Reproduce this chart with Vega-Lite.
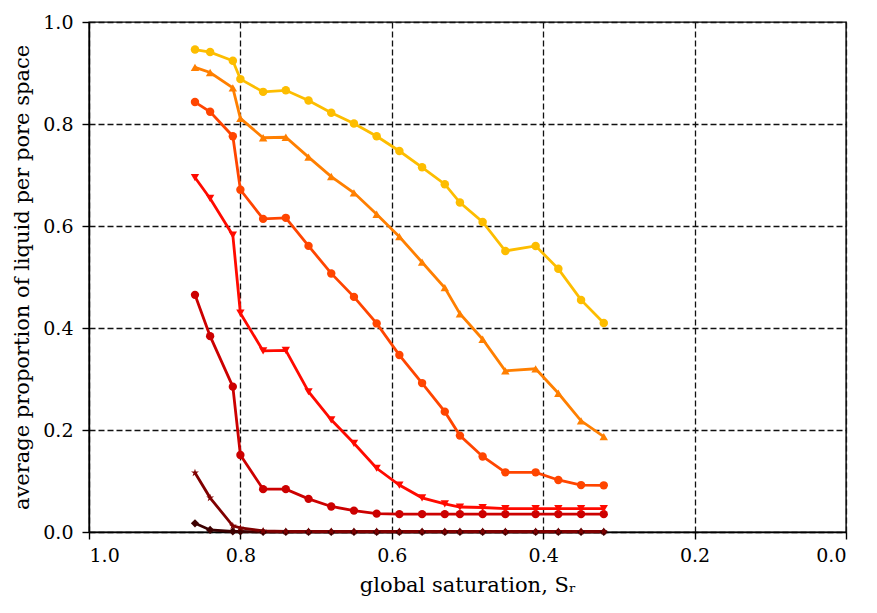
{
  "$schema": "https://vega.github.io/schema/vega-lite/v6.json",
  "width": 757,
  "height": 510,
  "autosize": "none",
  "padding": {"left": 89, "top": 22, "right": 31, "bottom": 81},
  "background": "white",
  "config": {
    "view": {"stroke": "black", "strokeWidth": 1.4},
    "font": "DejaVu Serif",
    "axis": {
      "labelFont": "DejaVu Serif",
      "titleFont": "DejaVu Serif",
      "labelFontSize": 19,
      "titleFontSize": 21,
      "titleFontWeight": "normal",
      "labelColor": "black",
      "titleColor": "black",
      "domainColor": "black",
      "domainWidth": 1.4,
      "tickColor": "black",
      "tickSize": 7,
      "tickWidth": 1.4,
      "gridColor": "#111111",
      "gridDash": [6, 3],
      "gridWidth": 1.3,
      "gridOpacity": 1
    }
  },
  "data": {
    "values": [
      {"x": 0.86, "a": 0.946, "b": 0.911, "c": 0.843, "d": 0.695, "e": 0.465, "f": 0.116, "g": 0.017},
      {"x": 0.84, "a": 0.941, "b": 0.901, "c": 0.824, "d": 0.654, "e": 0.384, "f": 0.067, "g": 0.004},
      {"x": 0.81, "a": 0.924, "b": 0.871, "c": 0.776, "d": 0.582, "e": 0.285, "f": 0.012, "g": 0.001},
      {"x": 0.80, "a": 0.888, "b": 0.811, "c": 0.671, "d": 0.429, "e": 0.151, "f": 0.008, "g": 0.001},
      {"x": 0.77, "a": 0.863, "b": 0.773, "c": 0.614, "d": 0.355, "e": 0.084, "f": 0.002, "g": 0.0},
      {"x": 0.74, "a": 0.866, "b": 0.774, "c": 0.616, "d": 0.356, "e": 0.084, "f": 0.001, "g": 0.0},
      {"x": 0.71, "a": 0.846, "b": 0.735, "c": 0.561, "d": 0.275, "e": 0.065, "f": 0.001, "g": 0.0},
      {"x": 0.68, "a": 0.822, "b": 0.697, "c": 0.507, "d": 0.220, "e": 0.050, "f": 0.001, "g": 0.0},
      {"x": 0.65, "a": 0.801, "b": 0.665, "c": 0.461, "d": 0.174, "e": 0.042, "f": 0.001, "g": 0.0},
      {"x": 0.62, "a": 0.776, "b": 0.623, "c": 0.409, "d": 0.125, "e": 0.036, "f": 0.001, "g": 0.0},
      {"x": 0.59, "a": 0.747, "b": 0.579, "c": 0.347, "d": 0.092, "e": 0.035, "f": 0.001, "g": 0.0},
      {"x": 0.56, "a": 0.715, "b": 0.529, "c": 0.292, "d": 0.067, "e": 0.035, "f": 0.001, "g": 0.0},
      {"x": 0.53, "a": 0.682, "b": 0.479, "c": 0.236, "d": 0.055, "e": 0.035, "f": 0.001, "g": 0.0},
      {"x": 0.51, "a": 0.646, "b": 0.428, "c": 0.189, "d": 0.049, "e": 0.035, "f": 0.001, "g": 0.0},
      {"x": 0.48, "a": 0.608, "b": 0.378, "c": 0.148, "d": 0.048, "e": 0.035, "f": 0.001, "g": 0.0},
      {"x": 0.45, "a": 0.551, "b": 0.316, "c": 0.117, "d": 0.046, "e": 0.035, "f": 0.001, "g": 0.0},
      {"x": 0.41, "a": 0.561, "b": 0.320, "c": 0.117, "d": 0.046, "e": 0.035, "f": 0.001, "g": 0.0},
      {"x": 0.38, "a": 0.516, "b": 0.272, "c": 0.102, "d": 0.046, "e": 0.035, "f": 0.001, "g": 0.0},
      {"x": 0.35, "a": 0.455, "b": 0.218, "c": 0.092, "d": 0.046, "e": 0.035, "f": 0.001, "g": 0.0},
      {"x": 0.32, "a": 0.410, "b": 0.187, "c": 0.0915, "d": 0.046, "e": 0.035, "f": 0.001, "g": 0.0}
    ]
  },
  "transform": [
    {"fold": ["g", "f", "e", "d", "c", "b", "a"], "as": ["series", "y"]}
  ],
  "encoding": {
    "x": {
      "field": "x", "type": "quantitative",
      "scale": {"domain": [1, 0], "nice": false, "zero": false},
      "axis": {"values": [1, 0.8, 0.6, 0.4, 0.2, 0], "format": ".1f", "title": "global saturation, Sᵣ", "labelPadding": 7, "titlePadding": 9}
    },
    "y": {
      "field": "y", "type": "quantitative",
      "scale": {"domain": [0, 1], "nice": false},
      "axis": {"values": [0, 0.2, 0.4, 0.6, 0.8, 1], "format": ".1f", "title": "average proportion of liquid per pore space", "labelPadding": 9, "titlePadding": 10}
    },
    "color": {
      "field": "series", "type": "nominal",
      "scale": {
        "domain": ["a", "b", "c", "d", "e", "f", "g"],
        "range": ["#fdbd00", "#ff7f00", "#ff4500", "#ff0a00", "#cc0000", "#800000", "#3d0000"]
      },
      "legend": null
    }
  },
  "layer": [
    {
      "mark": {"type": "line", "strokeWidth": 2.8},
      "encoding": {"detail": {"field": "series"}}
    },
    {
      "mark": {"type": "point", "filled": true, "opacity": 1},
      "encoding": {
        "shape": {
          "field": "series", "type": "nominal",
          "scale": {
            "domain": ["a", "b", "c", "d", "e", "f", "g"],
            "range": ["circle", "triangle-up", "circle", "triangle-down", "circle", "M0,-1L0.22,-0.3L0.95,-0.31L0.36,0.12L0.59,0.81L0,0.38L-0.59,0.81L-0.36,0.12L-0.95,-0.31L-0.22,-0.3Z", "diamond"]
          },
          "legend": null
        },
        "size": {
          "field": "series", "type": "nominal",
          "scale": {
            "domain": ["a", "b", "c", "d", "e", "f", "g"],
            "range": [72, 68, 16, 22, 55, 55, 40]
          },
          "legend": null
        }
      }
    }
  ]
}
